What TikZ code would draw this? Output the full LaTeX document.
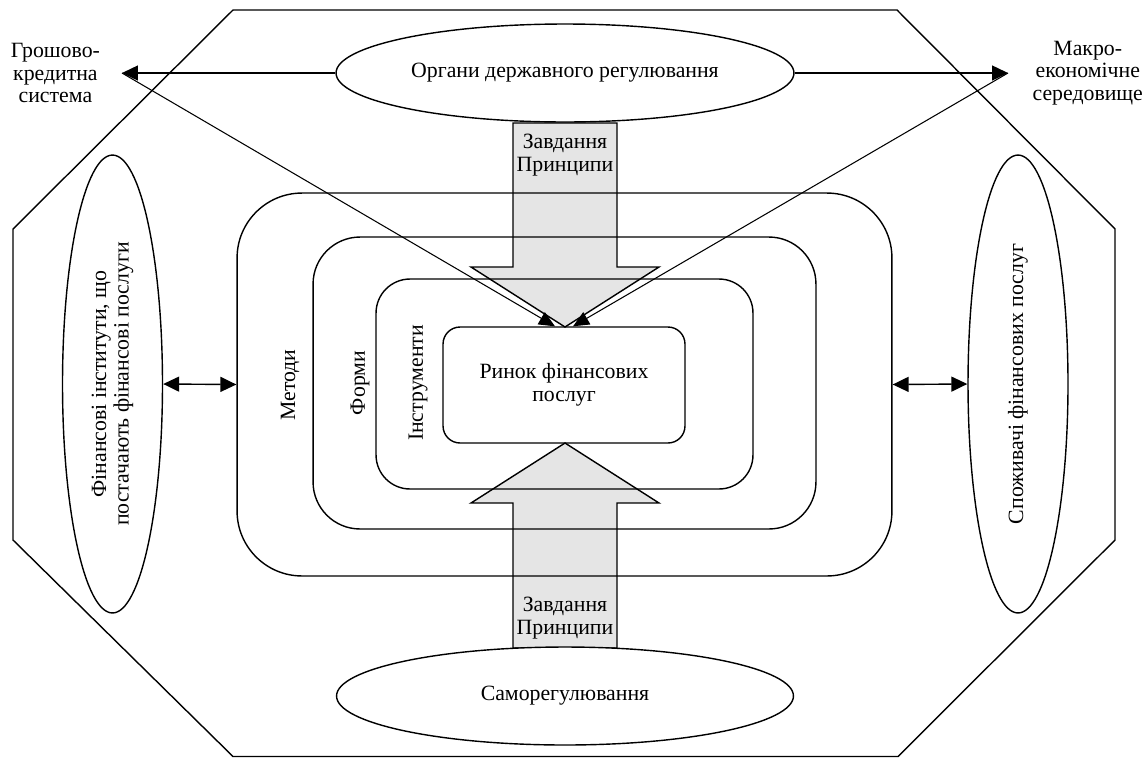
\documentclass[tikz,border=0pt]{standalone}
\usepackage{fontspec}
\setmainfont{Liberation Serif}
\usetikzlibrary{arrows.meta,shapes.geometric,positioning}

\tikzset{
  oval/.style={draw, ellipse, fill=white, line width=0.8pt, inner sep=0pt},
  ring/.style={draw, line width=0.8pt, inner sep=0pt},
  fat/.style={draw, fill=gray!20, line width=0.8pt},
  tip/.style={-{Triangle[length=0.32cm,width=0.3cm]}, line width=0.8pt},
  thintip/.style={-{Triangle[length=0.32cm,width=0.28cm]}, line width=0.6pt},
  twotips/.style={{Triangle[length=0.32cm,width=0.3cm]}-{Triangle[length=0.32cm,width=0.3cm]}, line width=0.8pt},
  lbl/.style={align=center, inner sep=1pt},
}

\begin{document}
\begin{tikzpicture}[x=0.02cm, y=-0.02cm,
  every node/.style={font=\fontsize{12.4}{12.8}\selectfont}]

%definitions
\def\octagon{(233,10) -- (897,10) -- (1115,229) -- (1115,540) -- (898,756.5) -- (233,756.5) -- (13,540) -- (13,229) -- cycle}
%
\def\arrowdown{(513,123) -- (513,267) -- (471,267) -- (565,327) -- (659,267) -- (617,267) -- (617,123) -- cycle}

\def\arrowup{(513,648) -- (513,503) -- (471,503) -- (565,443) -- (659,503) -- (617,503) -- (617,648) -- cycle}

\useasboundingbox (0,0) rectangle (1148,758);

%frame
\draw[line width=0.8pt] \octagon;

%fat arrows
\draw[fat] \arrowdown;
\draw[fat] \arrowup;

%rings
\node (metody) [ring, rounded corners=1.3cm, minimum width=13.1cm, minimum height=7.66cm] at (564.5,384.5) {};
\node (formy) [ring, rounded corners=0.94cm, minimum width=10.06cm, minimum height=5.84cm] at (564.5,383) {};
\node (instr) [ring, rounded corners=0.68cm, minimum width=7.54cm, minimum height=4.2cm] at (564.5,384) {};
\node (rynok) [ring, rounded corners=0.34cm, minimum width=4.84cm, minimum height=2.32cm, align=center] at (564,385) {Ринок фінансових\\послуг};

\node (metodylbl) [rotate=90] at (290,385) {Методи};
\node (formylbl) [rotate=90] at (360,383) {Форми};
\node (instrlbl) [rotate=90] at (418,383) {Інструменти};

%ovals
\node (organy) [oval, minimum width=9.16cm, minimum height=1.96cm] at (565,73) {Органи державного регулювання};
\node (samoreg) [oval, minimum width=9.14cm, minimum height=1.96cm] at (565,696) {Саморегулювання};
\node (instytuty) [oval, minimum width=2cm, minimum height=9.16cm] at (112.5,384) {};
\node (spozhyvachi) [oval, minimum width=2cm, minimum height=9.16cm] at (1018,384) {};

\node (instytutylbl) [lbl, rotate=90] at (instytuty.center) {Фінансові інститути, що\\постачають фінансові послуги};
\node (spozhyvachilbl) [lbl, rotate=90] at (spozhyvachi.center) {Споживачі фінансових послуг};

\node (zavdtop) [lbl] at (565,155) {Завдання\\Принципи};
\node (zavdbot) [lbl] at (565,618) {Завдання\\Принципи};

%outside
\coordinate (gk) at (122,73);
\coordinate (me) at (1008,73);
\node (groshi) [lbl, left=0.4cm of gk] {Грошово-\\кредитна\\система};
\node (makro) [lbl, right=0.45cm of me] {Макро-\\економічне\\середовище};

%connectors
\draw[tip] (organy.west) -- (gk);
\draw[tip] (organy.east) -- (me);
\draw[thintip] (gk) -- ([xshift=-0.18cm]rynok.north);
\draw[thintip] (me) -- ([xshift=0.18cm]rynok.north);
\draw[twotips] (instytuty.east) -- (metody.west);
\draw[twotips] (metody.east) -- (spozhyvachi.west);
\end{tikzpicture}
\end{document}
